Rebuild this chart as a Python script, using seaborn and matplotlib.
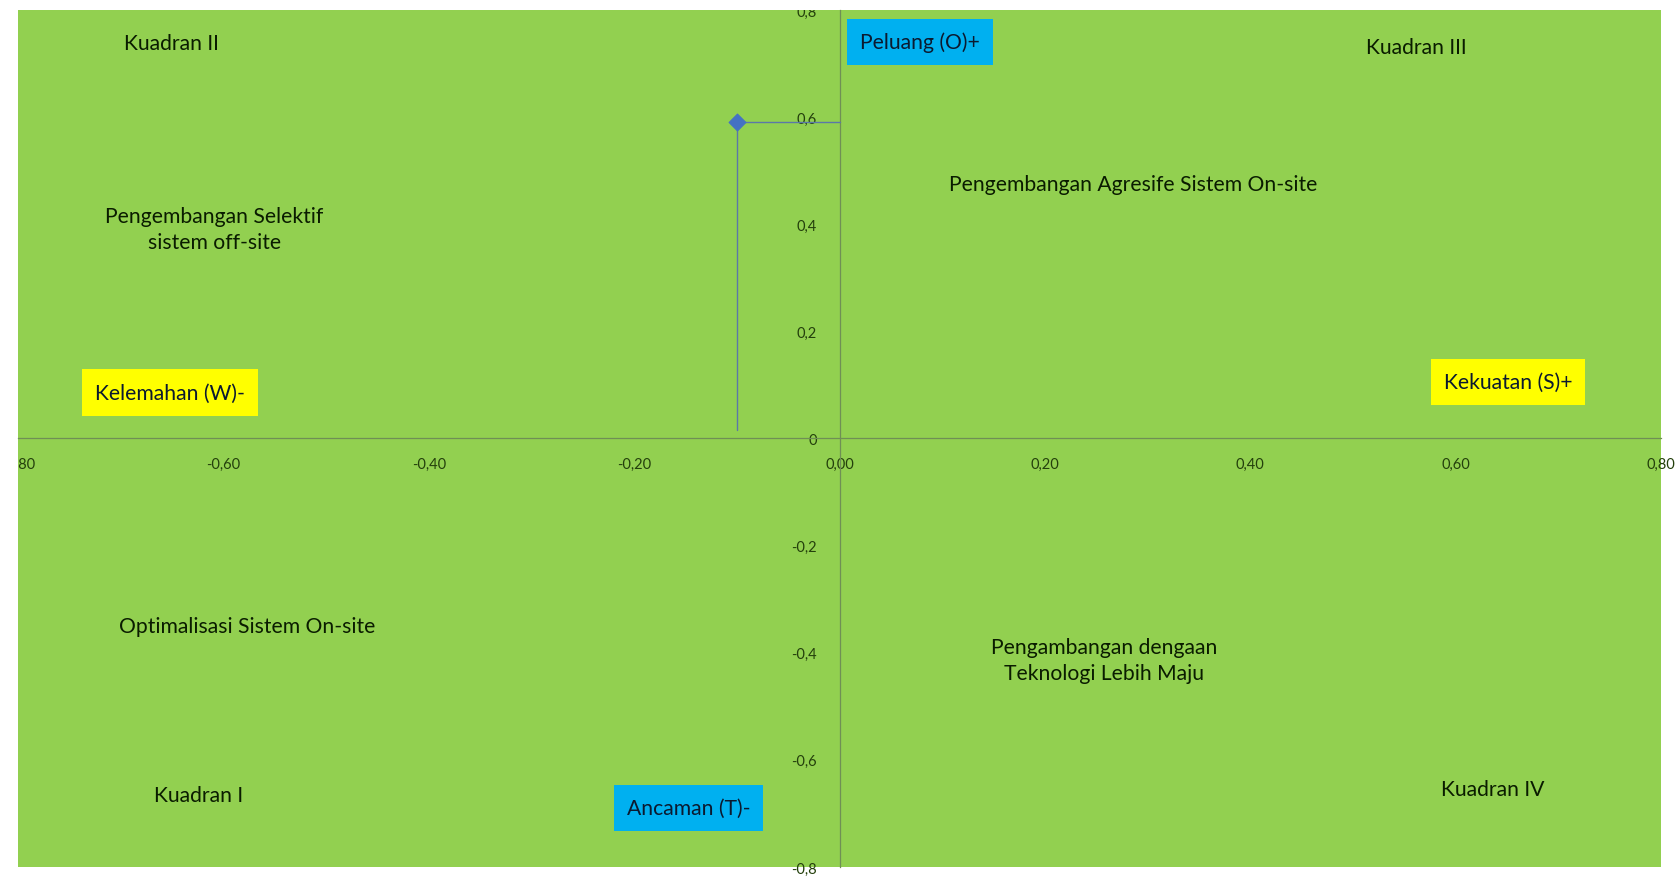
import matplotlib
matplotlib.use("Agg")
import matplotlib.pyplot as plt
import seaborn as sns
import pandas as pd

# Position of the strategy point (internal score vs external score)
ifas_x = [-0.10]
efas_y = [0.59]

x_ticks = [-0.8, -0.6, -0.4, -0.2, 0.0, 0.2, 0.4, 0.6, 0.8]
x_tick_labels = ["-0,80", "-0,60", "-0,40", "-0,20", "0,00", "0,20", "0,40", "0,60", "0,80"]
y_ticks = [-0.8, -0.6, -0.4, -0.2, 0.0, 0.2, 0.4, 0.6, 0.8]
y_tick_labels = ["-0,8", "-0,6", "-0,4", "-0,2", "0", "0,2", "0,4", "0,6", "0,8"]

# Quadrant captions: (x, y, text)
quadrant_notes = [
    (-0.651, 0.738, "Kuadran II"),
    (0.562, 0.731, "Kuadran III"),
    (-0.624, -0.666, "Kuadran I"),
    (0.636, -0.654, "Kuadran IV"),
    (0.286, 0.475, "Pengembangan Agresife Sistem On-site"),
    (-0.609, 0.391, "Pengembangan Selektif\nsistem off-site"),
    (-0.577, -0.350, "Optimalisasi Sistem On-site"),
    (0.258, -0.414, "Pengambangan dengaan\nTeknologi Lebih Maju"),
]

# Axis direction labels in coloured boxes: (x, y, text, box colour)
axis_badges = [
    (0.078, 0.740, "Peluang (O)+", "#00B0F0"),
    (-0.147, -0.690, "Ancaman (T)-", "#00B0F0"),
    (-0.652, 0.086, "Kelemahan (W)-", "#FFFF00"),
    (0.651, 0.105, "Kekuatan (S)+", "#FFFF00"),
]

sns.set_theme(style="white")
plt.rcParams["font.family"] = ["Lato", "DejaVu Sans"]

GREEN = "#92D050"
AXIS = "#6f8f55"
POINT = "#4472C4"
TEXT = "#0a1c00"

fig = plt.figure(figsize=(16.77, 8.78), dpi=100)
ax = fig.add_axes([0.0107, 0.0114, 0.9798, 0.9761])
ax.set_facecolor(GREEN)
fig.patch.set_facecolor("white")

ax.set_xlim(-0.8, 0.8)
ax.set_ylim(-0.8, 0.8)

# Drop lines from the point to both axes
ax.plot([ifas_x[0], ifas_x[0]], [efas_y[0], 0.016], color="#5a78a8", lw=1.0, zorder=3)
ax.plot([ifas_x[0], 0.0], [efas_y[0], efas_y[0]], color="#5a78a8", lw=1.0, zorder=3)

df = pd.DataFrame({"x": ifas_x, "y": efas_y})
sns.scatterplot(data=df, x="x", y="y", ax=ax, marker="D", s=75,
                color=POINT, edgecolor=POINT, zorder=4, legend=False)

# Axes crossing through the origin
for side in ["top", "right"]:
    ax.spines[side].set_visible(False)
ax.spines["left"].set_position("zero")
ax.spines["bottom"].set_position("zero")
ax.spines["left"].set_color(AXIS)
ax.spines["bottom"].set_color(AXIS)
ax.spines["left"].set_linewidth(0.9)
ax.spines["bottom"].set_linewidth(0.9)

ax.set_xticks(x_ticks)
ax.set_xticklabels(x_tick_labels)
ax.set_yticks(y_ticks)
ax.set_yticklabels(y_tick_labels)
ax.tick_params(axis="x", direction="inout", length=5, width=0.8, color=AXIS,
               labelsize=10.5, labelcolor="#24400c", pad=11)
ax.tick_params(axis="y", direction="inout", length=5, width=0.8, color=AXIS,
               labelsize=10.5, labelcolor="#24400c", pad=14)
ax.set_xlabel("")
ax.set_ylabel("")

# Labels at the plot edges are cut off by the plot area
for lab in [ax.get_xticklabels()[0], ax.get_yticklabels()[-1]]:
    lab.set_clip_box(ax.bbox)
    lab.set_clip_on(True)

for x, y, txt in quadrant_notes:
    ax.text(x, y, txt, ha="center", va="center", fontsize=15.2,
            color=TEXT, linespacing=1.4, zorder=5)

for x, y, txt, col in axis_badges:
    ax.text(x, y, txt, ha="center", va="center", fontsize=15.2, color="#0b1a30",
            zorder=5,
            bbox=dict(boxstyle="square,pad=0.62", facecolor=col, edgecolor="none"))

fig.savefig("out.png", dpi=100, facecolor="white")
